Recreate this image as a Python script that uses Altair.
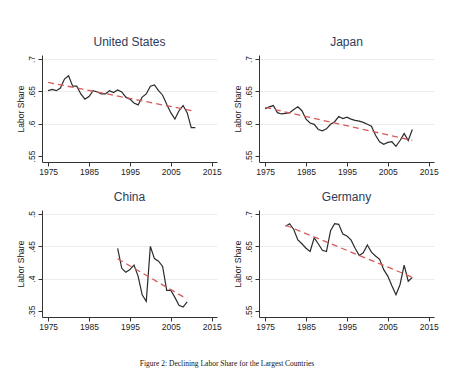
import altair as alt
import pandas as pd

# ---- data ----
us_years = list(range(1975, 2012))
us_share = [0.651, 0.653, 0.651, 0.655, 0.669, 0.674, 0.658, 0.658, 0.646, 0.638,
            0.642, 0.651, 0.649, 0.646, 0.646, 0.651, 0.648, 0.652, 0.649, 0.641,
            0.638, 0.632, 0.629, 0.641, 0.646, 0.658, 0.660, 0.651, 0.644, 0.630,
            0.617, 0.607, 0.620, 0.628, 0.617, 0.594, 0.594]

jp_years = list(range(1975, 2012))
jp_share = [0.623, 0.626, 0.628, 0.617, 0.615, 0.616, 0.617, 0.622, 0.626, 0.620,
            0.607, 0.601, 0.599, 0.591, 0.589, 0.592, 0.599, 0.603, 0.611, 0.608,
            0.610, 0.607, 0.605, 0.604, 0.602, 0.599, 0.596, 0.582, 0.572, 0.568,
            0.571, 0.572, 0.565, 0.574, 0.585, 0.574, 0.591]

cn_years = list(range(1992, 2010))
cn_share = [0.447, 0.416, 0.410, 0.414, 0.421, 0.404, 0.375, 0.365, 0.450, 0.431,
            0.427, 0.419, 0.382, 0.382, 0.371, 0.359, 0.356, 0.364]

de_years = list(range(1980, 2012))
de_share = [0.681, 0.685, 0.676, 0.660, 0.654, 0.647, 0.642, 0.663, 0.654, 0.644,
            0.642, 0.674, 0.685, 0.684, 0.669, 0.666, 0.660, 0.647, 0.636, 0.640,
            0.652, 0.641, 0.635, 0.630, 0.614, 0.604, 0.589, 0.575, 0.591, 0.621,
            0.596, 0.602]

x_ticks = [1975, 1985, 1995, 2005, 2015]
y_ticks_hi = [0.55, 0.6, 0.65, 0.7]
y_ticks_lo = [0.35, 0.4, 0.45, 0.5]

caption = "Figure 2: Declining Labor Share for the Largest Countries"

FONT = "Liberation Sans"
AX = "#333333"


def panel(name, years, vals, ticks):
    df = pd.DataFrame({"year": years, "share": vals})
    lo = ticks[0]
    hi = ticks[-1]
    x = alt.X(
        "year:Q",
        scale=alt.Scale(domain=[1973.5, 2016.3], nice=False, zero=False),
        axis=alt.Axis(values=x_ticks, format="d", title=None, grid=False,
                      labelFont=FONT, labelFontSize=8.5, labelColor="#222",
                      tickColor=AX, domainColor=AX, tickSize=4, labelPadding=1,
                      labelFlush=False),
    )
    y = alt.Y(
        "share:Q",
        scale=alt.Scale(domain=[lo - 0.0093, hi + 0.0062], nice=False, zero=False),
        axis=alt.Axis(values=ticks,
                      labelExpr="replace(format(datum.value, '.2~f'), '0.', '.')",
                      labelAngle=270, labelAlign="center", labelBaseline="bottom",
                      title="Labor Share", titleFont=FONT, titleFontSize=8.5,
                      titleFontWeight="normal", titleColor="#222", titlePadding=2,
                      labelFont=FONT, labelFontSize=8.5, labelColor="#222",
                      tickColor=AX, domainColor=AX, tickSize=4, labelPadding=2,
                      labelFlush=False, grid=True,
                      gridColor={"condition": {"test": f"datum.value < {lo + 0.01}",
                                               "value": "transparent"},
                                 "value": "#ececec"},
                      gridWidth=1),
    )
    base = alt.Chart(df)
    line = base.mark_line(color="#2b2b2b", strokeWidth=1.2).encode(x=x, y=y)
    trend = (base.transform_regression("year", "share")
             .mark_line(color="#d65a5a", strokeWidth=1.3, strokeDash=[6, 4])
             .encode(x=x, y=y))
    return (line + trend).properties(
        width=175, height=107,
        title=alt.TitleParams(name, font=FONT, fontSize=12, fontWeight="normal",
                              color="#2e3b58", anchor="middle", offset=6),
    )


chart = alt.concat(
    panel("United States", us_years, us_share, y_ticks_hi),
    panel("Japan", jp_years, jp_share, y_ticks_hi),
    panel("China", cn_years, cn_share, y_ticks_lo),
    panel("Germany", de_years, de_share, y_ticks_hi),
    columns=2, spacing={"row": 48, "column": 42}, bounds="flush",
).properties(
    title=alt.TitleParams(caption, orient="bottom", anchor="middle",
                          font="Liberation Serif", fontSize=7.5, fontWeight="normal",
                          color="#111", offset=29),
    padding={"left": 8, "top": 28, "right": 5, "bottom": 5},
    background="white",
).configure_view(stroke=None)

chart.save("out.html", embed_options={"renderer": "svg", "actions": False})
